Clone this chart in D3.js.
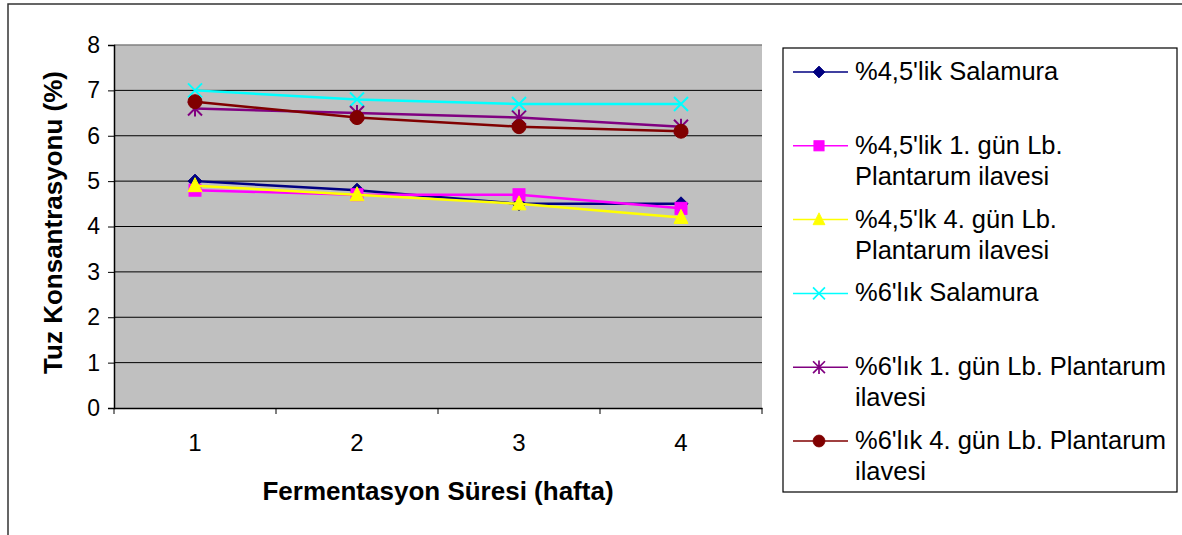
<!DOCTYPE html>
<html>
<head>
<meta charset="utf-8">
<script src="https://cdn.jsdelivr.net/npm/d3@7"></script>
<style>
  body { margin: 0; background: #fff; }
  svg { display: block; font-family: "Liberation Sans", Arial, sans-serif; }
</style>
</head>
<body>
<div id="chart"></div>
<script>
const weeks = ['1', '2', '3', '4'];
const yTicks = [0, 1, 2, 3, 4, 5, 6, 7, 8];
const seriesNames = [
  ["%4,5'lik Salamura"],
  ["%4,5'lik 1. gün Lb.", 'Plantarum ilavesi'],
  ["%4,5'lk 4. gün Lb.", 'Plantarum ilavesi'],
  ["%6'lık Salamura"],
  ["%6'lık 1. gün Lb. Plantarum", 'ilavesi'],
  ["%6'lık 4. gün Lb. Plantarum", 'ilavesi']
];
const salamura45 = [5.0, 4.8, 4.5, 4.5];
const gun1_45 = [4.8, 4.7, 4.7, 4.4];
const gun4_45 = [4.9, 4.7, 4.5, 4.2];
const salamura6 = [7.0, 6.8, 6.7, 6.7];
const gun1_6 = [6.6, 6.5, 6.4, 6.2];
const gun4_6 = [6.75, 6.4, 6.2, 6.1];

const seriesValues = [salamura45, gun1_45, gun4_45, salamura6, gun1_6, gun4_6];
const colors = ['#000080', '#ff00ff', '#ffff00', '#00ffff', '#800080', '#800000'];
const shapes = ['diamond', 'square', 'triangle', 'x', 'star', 'circle'];

const width = 1182, height = 535;
const plot = { left: 114, right: 762, top: 45, bottom: 408 };

const svg = d3.select('#chart').append('svg')
  .attr('width', width)
  .attr('height', height);

// outer frame
svg.append('rect')
  .attr('x', 8).attr('y', 4)
  .attr('width', width + 20).attr('height', height + 20)
  .attr('fill', '#fff')
  .attr('stroke', '#333').attr('stroke-width', 1.5);

const x = d3.scaleBand().domain(weeks).range([plot.left, plot.right]);
const y = d3.scaleLinear().domain([0, 8]).range([plot.bottom, plot.top]);

// plot background
svg.append('rect')
  .attr('x', plot.left).attr('y', plot.top)
  .attr('width', plot.right - plot.left).attr('height', plot.bottom - plot.top)
  .attr('fill', '#c0c0c0');
svg.append('line')
  .attr('x1', plot.left).attr('x2', plot.right)
  .attr('y1', plot.top).attr('y2', plot.top)
  .attr('stroke', '#808080').attr('stroke-width', 1.5);

// gridlines
svg.append('g').selectAll('line')
  .data(yTicks.filter(d => d > 0 && d < 8))
  .join('line')
  .attr('x1', plot.left).attr('x2', plot.right)
  .attr('y1', d => y(d)).attr('y2', d => y(d))
  .attr('stroke', '#000').attr('stroke-width', 1);

// y axis
const yAxis = svg.append('g')
  .attr('transform', `translate(${plot.left},0)`)
  .call(d3.axisLeft(y).tickValues(yTicks).tickSize(6).tickPadding(8).tickFormat(d3.format('d')));
yAxis.select('.domain').attr('stroke', '#000').attr('stroke-width', 1.5);
yAxis.selectAll('.tick line').attr('stroke', '#000');
yAxis.selectAll('.tick text')
  .attr('font-size', 23).attr('fill', '#000')
  .attr('font-family', '"Liberation Sans", Arial, sans-serif');

// x axis
const xAxis = svg.append('g')
  .attr('transform', `translate(0,${plot.bottom})`)
  .call(d3.axisBottom(x).tickSize(0).tickPadding(26));
xAxis.select('.domain').attr('stroke', '#000').attr('stroke-width', 1.5);
xAxis.selectAll('.tick text')
  .attr('font-size', 24).attr('fill', '#000')
  .attr('font-family', '"Liberation Sans", Arial, sans-serif');
xAxis.selectAll('.boundary')
  .data(weeks.map(d => x(d)).concat([plot.right]))
  .join('line')
  .attr('class', 'boundary')
  .attr('x1', d => d).attr('x2', d => d)
  .attr('y1', 0).attr('y2', 6)
  .attr('stroke', '#000');

// axis titles
svg.append('text')
  .attr('x', (plot.left + plot.right) / 2).attr('y', 500)
  .attr('text-anchor', 'middle')
  .attr('font-size', 26).attr('font-weight', 'bold')
  .text('Fermentasyon Süresi (hafta)');
svg.append('text')
  .attr('transform', `translate(62,${(plot.top + plot.bottom) / 2 - 4}) rotate(-90)`)
  .attr('text-anchor', 'middle')
  .attr('font-size', 26).attr('font-weight', 'bold')
  .text('Tuz Konsantrasyonu (%)');

function drawMarker(g, shape, color) {
  if (shape === 'diamond') {
    g.append('path').attr('d', 'M0,-7L7,0L0,7L-7,0Z').attr('fill', color).attr('stroke', color);
  } else if (shape === 'square') {
    g.append('rect').attr('x', -6).attr('y', -6).attr('width', 12).attr('height', 12)
      .attr('fill', color).attr('stroke', color);
  } else if (shape === 'triangle') {
    g.append('path').attr('d', 'M0,-8L7,6L-7,6Z').attr('fill', color).attr('stroke', color);
  } else if (shape === 'x') {
    g.append('path').attr('d', 'M-7,-7L7,7M-7,7L7,-7').attr('stroke', color).attr('stroke-width', 2).attr('fill', 'none');
  } else if (shape === 'star') {
    g.append('path').attr('d', 'M-7,-7L7,7M-7,7L7,-7M0,-8L0,8').attr('stroke', color).attr('stroke-width', 2).attr('fill', 'none');
  } else {
    g.append('circle').attr('r', 7).attr('fill', color).attr('stroke', color);
  }
}

const cx = d => x(d) + x.bandwidth() / 2;
const line = d3.line().x(d => cx(d.week)).y(d => y(d.value));

seriesValues.forEach((vals, i) => {
  const pts = vals.map((v, j) => ({ week: weeks[j], value: v }));
  svg.append('path')
    .datum(pts)
    .attr('d', line)
    .attr('fill', 'none')
    .attr('stroke', colors[i])
    .attr('stroke-width', 2.5);
  pts.forEach(p => {
    const g = svg.append('g').attr('transform', `translate(${cx(p.week)},${y(p.value)})`);
    drawMarker(g, shapes[i], colors[i]);
  });
});

// legend
const legend = svg.append('g');
legend.append('rect')
  .attr('x', 783).attr('y', 48).attr('width', 394).attr('height', 444)
  .attr('fill', '#fff').attr('stroke', '#000').attr('stroke-width', 1.2);

seriesNames.forEach((lines, i) => {
  const ly = 72 + i * 73.8;
  const g = legend.append('g');
  g.append('line')
    .attr('x1', 793).attr('x2', 848).attr('y1', ly).attr('y2', ly)
    .attr('stroke', colors[i]).attr('stroke-width', 1.5);
  const m = g.append('g').attr('transform', `translate(819,${ly}) scale(0.85)`);
  drawMarker(m, shapes[i], colors[i]);
  const t = g.append('text')
    .attr('x', 855).attr('y', ly + 8)
    .attr('font-size', 25.5).attr('fill', '#000');
  lines.forEach((s, k) => {
    t.append('tspan').attr('x', 855).attr('dy', k === 0 ? 0 : 31).text(s);
  });
});
</script>
</body>
</html>
